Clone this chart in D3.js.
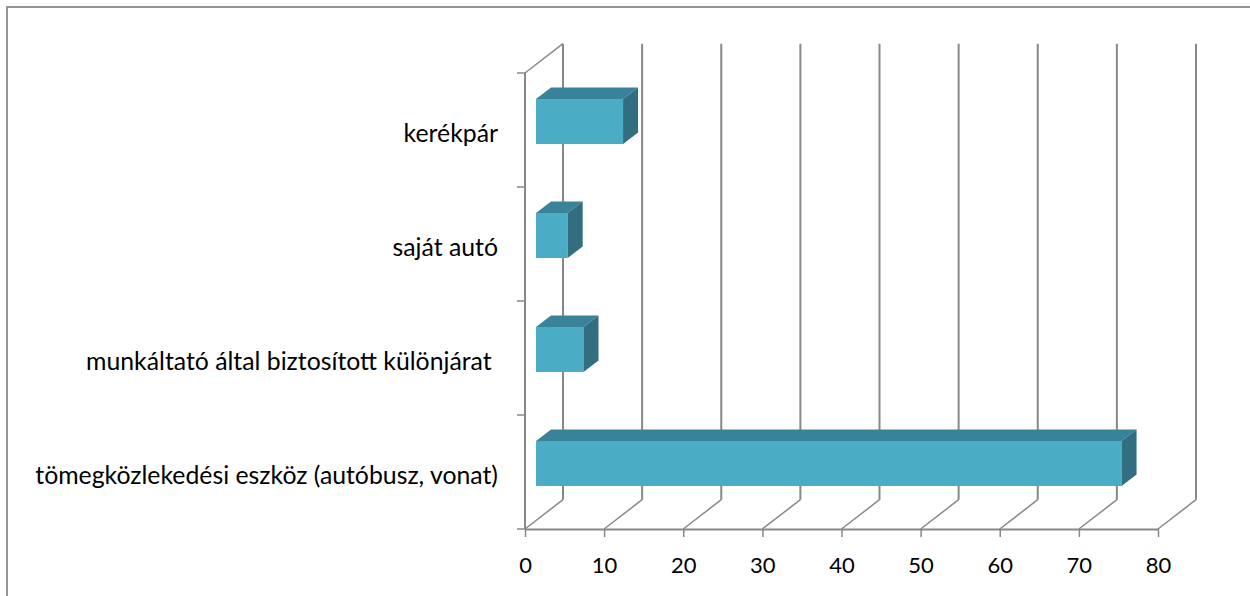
<!DOCTYPE html>
<html>
<head>
<meta charset="utf-8">
<script src="https://cdn.jsdelivr.net/npm/d3@7"></script>
<style>
  body { margin: 0; background: #fff; }
  svg { display: block; }
</style>
</head>
<body>
<svg id="chart" width="1250" height="596"></svg>
<script>
// Categories, top to bottom
const categories = [
  "kerékpár",
  "saját autó",
  "munkáltató által biztosított különjárat ",
  "tömegközlekedési eszköz (autóbusz, vonat)"
];
// Bar values
const values = [11, 4, 6, 74];
// Value-axis tick labels
const tickValues = [0, 10, 20, 30, 40, 50, 60, 70, 80];

const svg = d3.select("#chart");
const font = "Lato, 'Open Sans', sans-serif";
const gridColor = "#888888";

// chart frame
svg.append("rect")
  .attr("x", 7).attr("y", 7)
  .attr("width", 1300).attr("height", 700)
  .attr("fill", "none")
  .attr("stroke", "#8a8a8a")
  .attr("stroke-width", 1.8);

// plot box: front plane plus an oblique depth vector
const x = d3.scaleLinear().domain([0, 80]).range([525, 1158]);
const y = d3.scaleBand().domain(categories).range([73, 529]);
const DX = 38, DY = -29.3;            // full depth of the box
const f0 = 0.29, f1 = 0.685;          // bar front / back depth fractions
const barFrac = 0.395;                 // bar thickness as share of band

const [yTop, yBot] = y.range();
const g = svg.append("g");

// back-wall gridlines and floor diagonals
tickValues.forEach(v => {
  g.append("line")
    .attr("x1", x(v) + DX).attr("y1", yTop + DY)
    .attr("x2", x(v) + DX).attr("y2", yBot + DY)
    .attr("stroke", gridColor).attr("stroke-width", 2);
  g.append("line")
    .attr("x1", x(v)).attr("y1", yBot)
    .attr("x2", x(v) + DX).attr("y2", yBot + DY)
    .attr("stroke", gridColor).attr("stroke-width", 1.5);
});

// left wall edges
g.append("line")
  .attr("x1", x(0)).attr("y1", yTop).attr("x2", x(0)).attr("y2", yBot)
  .attr("stroke", gridColor).attr("stroke-width", 2);
g.append("line")
  .attr("x1", x(0)).attr("y1", yTop).attr("x2", x(0) + DX).attr("y2", yTop + DY)
  .attr("stroke", gridColor).attr("stroke-width", 1.5);

// category tick marks at band edges
const edges = categories.map(c => y(c)).concat([yBot]);
g.selectAll(".ctick").data(edges).join("line")
  .attr("x1", x(0) - 8).attr("x2", x(0))
  .attr("y1", d => d).attr("y2", d => d)
  .attr("stroke", gridColor).attr("stroke-width", 1.5);

// value axis along the front floor edge
const xAxis = d3.axisBottom(x)
  .tickValues(tickValues)
  .tickSize(8)
  .tickSizeOuter(0)
  .tickPadding(20);
const ax = svg.append("g").attr("transform", `translate(0,${yBot})`).call(xAxis);
ax.select(".domain").attr("stroke", gridColor).attr("stroke-width", 1.8);
ax.selectAll(".tick line").attr("stroke", gridColor).attr("stroke-width", 1.5);
ax.selectAll(".tick text")
  .attr("fill", "#000")
  .style("font-family", font)
  .style("font-size", "22px");

// 3D bars
const bars = svg.append("g");
categories.forEach((c, i) => {
  const v = values[i];
  const bh = y.bandwidth() * barFrac;
  const yc = y(c) + y.bandwidth() / 2;
  const P = (val, yy, f) => [x(val) + f * DX, yy + f * DY];
  const t = yc - bh / 2, b = yc + bh / 2;

  // front face
  const fl = P(0, t, f0), fr = P(v, b, f0);
  bars.append("rect")
    .attr("x", fl[0]).attr("y", fl[1])
    .attr("width", fr[0] - fl[0]).attr("height", fr[1] - fl[1])
    .attr("fill", "#4bacc6");
  // top face
  bars.append("polygon")
    .attr("points", [P(0, t, f0), P(v, t, f0), P(v, t, f1), P(0, t, f1)].map(p => p.join(",")).join(" "))
    .attr("fill", "#39839a");
  // end face
  bars.append("polygon")
    .attr("points", [P(v, t, f0), P(v, t, f1), P(v, b, f1), P(v, b, f0)].map(p => p.join(",")).join(" "))
    .attr("fill", "#306e80");
});

// category labels
svg.append("g").selectAll("text").data(categories).join("text")
  .attr("x", 498)
  .attr("y", d => y(d) + y.bandwidth() / 2 + 11.5)
  .attr("text-anchor", "end")
  .attr("fill", "#000")
  .style("white-space", "pre")
  .style("font-family", font)
  .style("font-size", "24.8px")
  .text(d => d);
</script>
</body>
</html>
